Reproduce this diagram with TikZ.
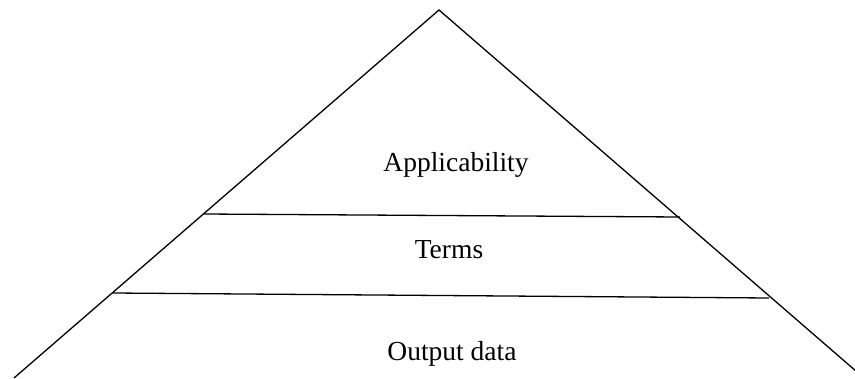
\documentclass[tikz,border=0pt]{standalone}
\usepackage{fontspec}
\setmainfont{Liberation Serif}
\begin{document}
\begin{tikzpicture}[x=1pt,y=-1pt,
  edge/.style={draw=black,line width=1.3pt},
  label/.style={font=\fontsize{27.5}{32}\selectfont,anchor=base,inner sep=0pt}]
\useasboundingbox (0,0) rectangle (855,378);
\begin{scope}
\clip (0,0) rectangle (855,378);
\coordinate (apex) at (439,10);
\coordinate (bl) at (14,378);
\coordinate (br) at (864,378);
\coordinate (l1) at (204,214);
\coordinate (r1) at (680,217);
\coordinate (l2) at (113,293);
\coordinate (r2) at (769,298);
\draw[edge] (bl) -- (apex) -- (br);
\draw[edge] (l1) -- (r1);
\draw[edge] (l2) -- (r2);
\end{scope}
\node[label] (app) at (456,171) {Applicability};
\node[label] (terms) at (449,258) {Terms};
\node[label] (out) at (452,360) {Output data};
\end{tikzpicture}
\end{document}
